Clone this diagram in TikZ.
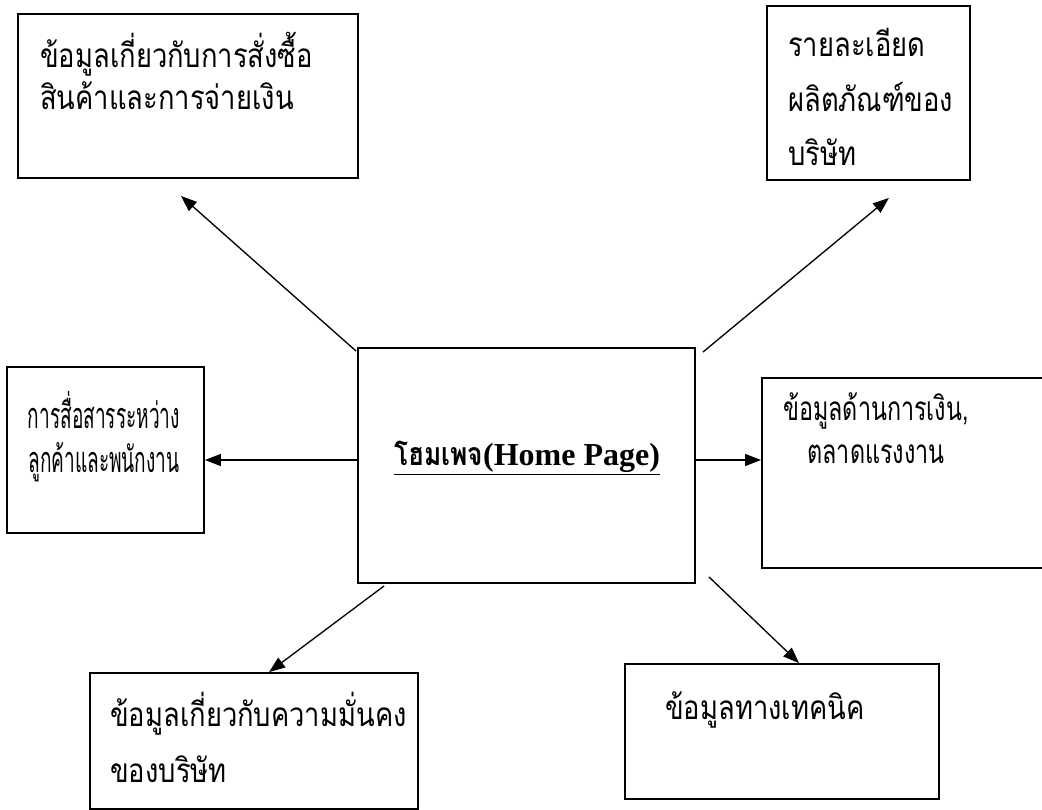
\documentclass[tikz,border=0pt]{standalone}
\usepackage{fontspec}
\setmainfont{Liberation Serif}
\newfontfamily\thaifont[Script=Thai,FakeStretch=0.82]{Loma}
\newfontfamily\thainarrow[Script=Thai,FakeStretch=0.53]{Loma}
\newfontfamily\thaimid[Script=Thai,FakeStretch=0.7]{Loma}
\usepackage{tikz}
\usetikzlibrary{arrows.meta,calc,fit}

\begin{document}
\begin{tikzpicture}[x=0.75pt, y=-0.75pt, box/.style={rectangle, draw, line width=1.4pt, inner sep=0pt}, txt/.style={font=\thaifont\fontsize{25}{25}\selectfont, inner sep=0pt}, link/.style={-{Triangle[length=12pt,width=9pt]}, line width=1pt}]
\clip (0,0) rectangle (1042,810);
\node[box, fit={(358,348) (695,583)}] (1) {};
\node[box, fit={(18,14) (358,178)}] (2) {};
\node[box, fit={(767,6) (970,180)}] (3) {};
\node[box, fit={(7,367) (204,533)}] (4) {};
\node[box, fit={(762,378) (1050,568)}] (5) {};
\node[box, fit={(90,673) (418,809)}] (6) {};
\node[box, fit={(625,664) (939,799)}] (7) {};
\coordinate (m) at (0,460);
% texts
\node[txt, anchor=base west] (2a) at (40,67) {ข้อมูลเกี่ยวกับการสั่งซื้อ};
\node[txt, anchor=base west] (2b) at (40,109) {สินค้าและการจ่ายเงิน};
\node[txt, anchor=base west] (3a) at (788,56) {รายละเอียด};
\node[txt, anchor=base west] (3b) at (788,111) {ผลิตภัณฑ์ของ};
\node[txt, anchor=base west] (3c) at (788,165) {บริษัท};
\node[txt, anchor=base, font=\thainarrow\fontsize{27}{27}\selectfont] (4a) at (104,428) {การสื่อสารระหว่าง};
\node[txt, anchor=base, font=\thainarrow\fontsize{27}{27}\selectfont] (4b) at (104,472) {ลูกค้าและพนักงาน};
\node[txt, anchor=base, font=\rmfamily\fontsize{24}{24}\selectfont] (1a) at (527,465) {\underline{{\thaifont\bfseries โฮมเพจ}{\bfseries(Home Page)}}};
\node[txt, anchor=base, font=\thaimid\fontsize{25}{25}\selectfont] (5a) at (876,420) {ข้อมูลด้านการเงิน,};
\node[txt, anchor=base, font=\thaimid\fontsize{25}{25}\selectfont] (5b) at (876,463) {ตลาดแรงงาน};
\node[txt, anchor=base west] (6a) at (110,726) {ข้อมูลเกี่ยวกับความมั่นคง};
\node[txt, anchor=base west] (6b) at (110,782) {ของบริษัท};
\node[txt, anchor=base west] (7a) at (665,719) {ข้อมูลทางเทคนิค};
% arrows
\draw[link] ([shift={(-1,4)}]1.north west) -- ([shift={(-178,17)}]2.south east);
\draw[link] ([shift={(7,5)}]1.north east) -- ([shift={(-82,17)}]3.south east);
\draw[link] (1.west |- m) -- (4.east |- m);
\draw[link] (1.east |- m) -- (5.west |- m);
\draw[link] ([shift={(27,2)}]1.south west) -- ([shift={(180,0)}]6.north west);
\draw[link] ([shift={(13,-7)}]1.south east) -- ([shift={(175,0)}]7.north west);
\end{tikzpicture}
\end{document}
